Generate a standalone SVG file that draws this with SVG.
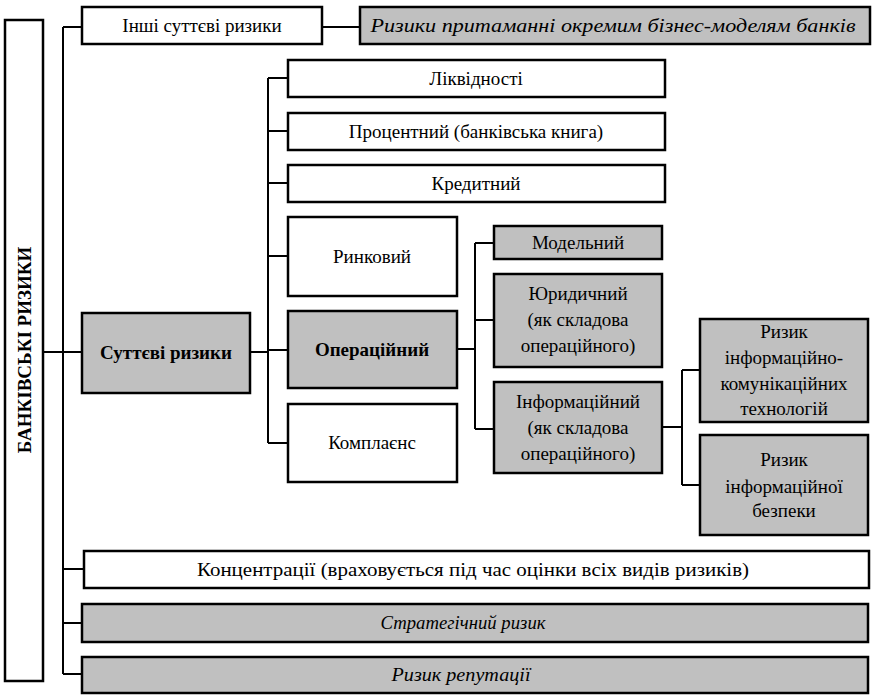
<svg xmlns="http://www.w3.org/2000/svg" width="877" height="695" viewBox="0 0 877 695">
<style>
.b{fill:#fff;stroke:#000;stroke-width:2.5}
.g{fill:#c0c0c0;stroke:#000;stroke-width:2.5}
.c{fill:none;stroke:#000;stroke-width:2}
</style>
<rect width="877" height="695" fill="#fff"/>
<g id="connectors">
<path class="c" stroke-width="3" d="M63 27V674"/>
<path class="c" d="M63 27H82M322 27H360M43 352H82M63 569H84M63 623H82M63 674H82"/>
<path class="c" d="M250 352H268M268 78V443M268 78H288M268 131H288M268 183H288M268 256H288M268 350H288M268 443H288"/>
<path class="c" d="M457 349H475M475 243V429M475 243H494M475 320H494M475 429H494"/>
<path class="c" d="M662 427H682M682 370V485M682 370H700M682 485H700"/>
</g>
<g id="bank"><rect class="b" x="5" y="20" width="38" height="661"/><text font-family="Liberation Serif, serif" font-size="19" font-weight="bold" text-anchor="middle" transform="translate(31 350) rotate(-90)">БАНКІВСЬКІ РИЗИКИ</text></g>
<g id="other"><rect class="b" x="82" y="7" width="240" height="37"/><text font-family="Liberation Serif, serif" font-size="19" text-anchor="middle" x="202" y="32">Інші суттєві ризики</text></g>
<g id="business"><rect class="g" x="360" y="7" width="510" height="37"/><text font-family="Liberation Serif, serif" font-size="19" font-style="italic" text-anchor="middle" x="613" y="32" textLength="485" lengthAdjust="spacingAndGlyphs">Ризики притаманні окремим бізнес-моделям банків</text></g>
<g id="material"><rect class="g" x="82" y="313" width="168" height="80"/><text font-family="Liberation Serif, serif" font-size="19" font-weight="bold" text-anchor="middle" x="166" y="359">Суттєві ризики</text></g>
<g id="liquidity"><rect class="b" x="288" y="60" width="377" height="37"/><text font-family="Liberation Serif, serif" font-size="19" text-anchor="middle" x="476" y="85">Ліквідності</text></g>
<g id="interest"><rect class="b" x="288" y="113" width="377" height="37"/><text font-family="Liberation Serif, serif" font-size="19" text-anchor="middle" x="476" y="138">Процентний (банківська книга)</text></g>
<g id="credit"><rect class="b" x="288" y="165" width="377" height="37"/><text font-family="Liberation Serif, serif" font-size="19" text-anchor="middle" x="476" y="190">Кредитний</text></g>
<g id="market"><rect class="b" x="288" y="217" width="169" height="79"/><text font-family="Liberation Serif, serif" font-size="19" text-anchor="middle" x="372" y="263">Ринковий</text></g>
<g id="operational"><rect class="g" x="288" y="311" width="169" height="77"/><text font-family="Liberation Serif, serif" font-size="19" font-weight="bold" text-anchor="middle" x="372" y="356">Операційний</text></g>
<g id="compliance"><rect class="b" x="288" y="404" width="169" height="78"/><text font-family="Liberation Serif, serif" font-size="19" text-anchor="middle" x="372" y="449">Комплаєнс</text></g>
<g id="model"><rect class="g" x="494" y="226" width="168" height="33"/><text font-family="Liberation Serif, serif" font-size="19" text-anchor="middle" x="578" y="249">Модельний</text></g>
<g id="legal"><rect class="g" x="494" y="274" width="168" height="93"/><text font-family="Liberation Serif, serif" font-size="19" text-anchor="middle" x="578" y="300">Юридичний</text><text font-family="Liberation Serif, serif" font-size="19" text-anchor="middle" x="578" y="326">(як складова</text><text font-family="Liberation Serif, serif" font-size="19" text-anchor="middle" x="578" y="352">операційного)</text></g>
<g id="information"><rect class="g" x="494" y="382" width="168" height="91"/><text font-family="Liberation Serif, serif" font-size="19" text-anchor="middle" x="578" y="408">Інформаційний</text><text font-family="Liberation Serif, serif" font-size="19" text-anchor="middle" x="578" y="434">(як складова</text><text font-family="Liberation Serif, serif" font-size="19" text-anchor="middle" x="578" y="460">операційного)</text></g>
<g id="ict"><rect class="g" x="700" y="319" width="168" height="103"/><text font-family="Liberation Serif, serif" font-size="19" text-anchor="middle" x="784" y="338">Ризик</text><text font-family="Liberation Serif, serif" font-size="19" text-anchor="middle" x="784" y="364">інформаційно-</text><text font-family="Liberation Serif, serif" font-size="19" text-anchor="middle" x="784" y="390">комунікаційних</text><text font-family="Liberation Serif, serif" font-size="19" text-anchor="middle" x="784" y="415">технологій</text></g>
<g id="security"><rect class="g" x="700" y="435" width="168" height="100"/><text font-family="Liberation Serif, serif" font-size="19" text-anchor="middle" x="784" y="466">Ризик</text><text font-family="Liberation Serif, serif" font-size="19" text-anchor="middle" x="784" y="493">інформаційної</text><text font-family="Liberation Serif, serif" font-size="19" text-anchor="middle" x="784" y="517">безпеки</text></g>
<g id="concentration"><rect class="b" x="84" y="551" width="785" height="37"/><text font-family="Liberation Serif, serif" font-size="19" text-anchor="middle" x="473" y="576" textLength="552" lengthAdjust="spacingAndGlyphs">Концентрації (враховується під час оцінки всіх видів ризиків)</text></g>
<g id="strategic"><rect class="g" x="82" y="604" width="786" height="38"/><text font-family="Liberation Serif, serif" font-size="19" font-style="italic" text-anchor="middle" x="463" y="629" textLength="165" lengthAdjust="spacingAndGlyphs">Стратегічний ризик</text></g>
<g id="reputation"><rect class="g" x="82" y="657" width="786" height="36"/><text font-family="Liberation Serif, serif" font-size="19" font-style="italic" text-anchor="middle" x="461" y="681" textLength="139" lengthAdjust="spacingAndGlyphs">Ризик репутації</text></g>
</svg>
